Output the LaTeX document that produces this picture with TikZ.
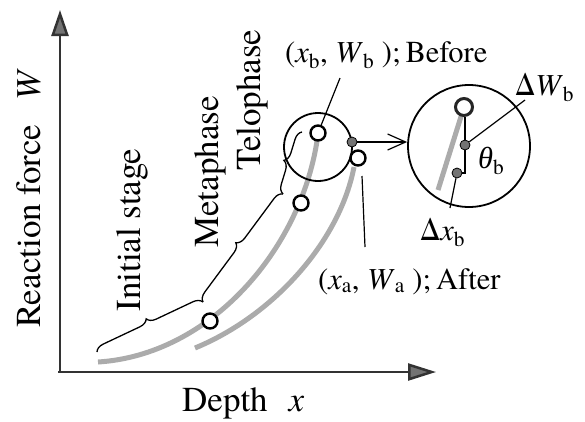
\documentclass[tikz,border=0pt]{standalone}
\usepackage{fontspec}
\setmainfont{texgyretermes}[Extension=.otf, UprightFont=*-regular, ItalicFont=*-italic, BoldFont=*-bold, BoldItalicFont=*-bolditalic]
\newfontfamily\tms{texgyretermes}[Extension=.otf, UprightFont=*-regular, ItalicFont=*-italic, BoldFont=*-bold, BoldItalicFont=*-bolditalic]
\newfontfamily\grk{Liberation Serif}
\usetikzlibrary{arrows.meta,decorations.pathreplacing}
\begin{document}
\begin{tikzpicture}[x=1pt,y=-1pt,
  lbl/.style={font=\tms\fontsize{35}{40}\selectfont, inner sep=0},
  sml/.style={font=\tms\fontsize{30.5}{36}\selectfont, inner sep=0},
  ring/.style={circle,draw=black,line width=2.4pt,fill=white,minimum size=15pt,inner sep=0},
  bigring/.style={circle,draw=black!85,line width=3pt,fill=white,minimum size=17pt,inner sep=0},
  dot/.style={circle,draw=black,line width=0.8pt,fill=black!55,minimum size=10pt,inner sep=0},
  curve/.style={line width=5pt,draw=black!33},
  axis/.style={line width=2.5pt,draw=black!80},
  leader/.style={line width=1.2pt},
  brc/.style={decorate,decoration={brace,amplitude=9pt},line width=1.3pt},
  lens/.style={circle,draw=black,line width=1.8pt,inner sep=0},
]
\useasboundingbox (0,0) rectangle (585,421);

% axes
\coordinate (O) at (60,372);
\coordinate (ytip) at (60,10);
\coordinate (xtip) at (436,372);
\draw[axis,-{Triangle[length=26pt,width=17pt,fill=black!55]}] (O) -- (ytip);
\draw[axis,-{Triangle[length=28pt,width=17pt,fill=black!55]}] (58,372) -- (xtip);

\node[lbl,rotate=90,anchor=base] (ylab) at (40,198) {Reaction force\hspace{0.7em}\textit{W}};
\node[lbl,anchor=base west] (xlab) at (182,411) {Depth\hspace{0.6em}\textit{x}};

% curves
\coordinate (c0) at (98,362);
\coordinate (c1) at (317,141);
\coordinate (d0) at (195,348);
\coordinate (d1) at (354,167);
\draw[curve] (c0) .. controls (210,355) and (300,250) .. (c1);
\draw[curve] (d0) .. controls (275,315) and (340,240) .. (d1);

% lenses
\node[lens,minimum size=68pt] (small) at (318,147) {};
\node[lens,minimum size=122pt] (big) at (469,146) {};

% points on curves
\node[ring] (R1) at (210,321) {};
\node[ring] (R2) at (301,203) {};
\node[ring] (R3) at (318,133) {};
\node[ring] (R4) at (358,158) {};
\node[dot] (D1) at (352,142) {};

% magnification arrow
\draw[leader,-{Straight Barb[length=18pt,width=16pt,line width=1.2pt]}] (D1) -- (D1 -| big.west);

% inside big lens
\coordinate (brc) at (464,107);
\coordinate (G1) at (438,190);
\draw[curve] (brc) -- (G1);
\node[bigring] (BR) at (brc) {};
\coordinate (C) at (465,173);
\draw[leader] (C |- BR.south) -- (C) -- (457,173);
\node[dot] (E1) at (465,145) {};
\node[dot] (E2) at (457,173) {};

% labels and leaders
\node[sml,anchor=base west] (lb) at (285,62) {(\textit{x}\textsubscript{b}, \textit{W}\textsubscript{b} );\,Before};
\coordinate (lbt) at (340,78);
\draw[leader] (lbt) -- (R3);

\node[sml,anchor=base west] (la) at (318,289) {(\textit{x}\textsubscript{a}, \textit{W}\textsubscript{a} );\,After};
\coordinate (lat) at (362,176);
\coordinate (lab) at (365,247);
\draw[leader] (lat) -- (lab);

\node[sml,anchor=base west] (dW) at (515,95) {Δ\textit{W}\textsubscript{b}};
\coordinate (dWe) at (525,100);
\draw[leader] (E1) -- (dWe);

\node[sml,anchor=base west] (dx) at (420,240) {Δ\textit{x}\textsubscript{b}};
\coordinate (dxe) at (450,208);
\draw[leader] (E2) -- (dxe);

\node[sml,anchor=base west] (th) at (478,168) {{\grk\itshape θ}\textsubscript{b}};

% braces and phase labels
\coordinate (b0) at (97,352);
\coordinate (b1) at (203,302);
\coordinate (b2) at (283,194);
\coordinate (b3) at (302,132);
\draw[brc] (b0) -- (b1);
\draw[brc] (b1) -- (b2);
\draw[brc] (b2) -- (b3);

\node[lbl,rotate=90,anchor=base] (init) at (140,230) {Initial stage};
\node[lbl,rotate=90,anchor=base] (meta) at (218,172) {Metaphase};
\node[lbl,rotate=90,anchor=base] (telo) at (260,100) {Telophase};
\end{tikzpicture}
\end{document}
